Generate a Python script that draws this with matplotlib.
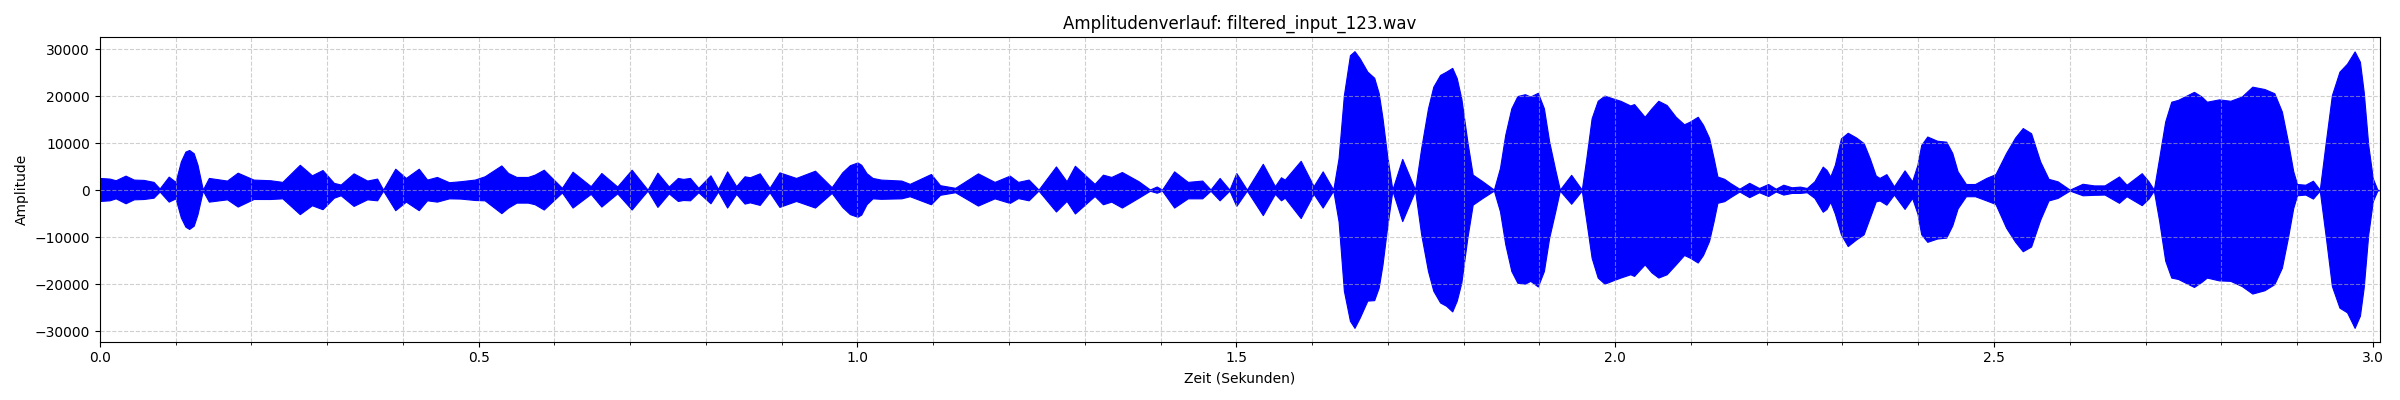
import matplotlib
matplotlib.use('Agg')
import matplotlib.pyplot as plt
from matplotlib.ticker import MultipleLocator

# Hüllkurve des Signals (Zeit in s, Amplitude)
env_time = [
    0.000, 0.013, 0.021, 0.034, 0.045, 0.058, 0.071, 0.079, 0.091, 0.100,
    0.107, 0.113, 0.118, 0.124, 0.129, 0.136, 0.144, 0.168, 0.182, 0.203,
    0.225, 0.241, 0.264, 0.280,
    0.294, 0.309, 0.318, 0.335, 0.353, 0.366, 0.374, 0.390, 0.404, 0.421,
    0.432, 0.445, 0.461, 0.476, 0.495, 0.508, 0.530, 0.539, 0.550, 0.565,
    0.574, 0.586, 0.610, 0.624, 0.648, 0.662, 0.683, 0.702, 0.723, 0.736,
    0.751, 0.763, 0.770, 0.779, 0.790, 0.806, 0.816, 0.828, 0.840, 0.851,
    0.858, 0.871, 0.884, 0.897, 0.919, 0.944, 0.966, 0.980, 0.990, 1.000,
    1.005, 1.012, 1.020,
    1.031, 1.058, 1.069, 1.097, 1.109, 1.129, 1.159, 1.181, 1.201, 1.212,
    1.226, 1.239, 1.262, 1.276, 1.287, 1.313, 1.324, 1.335, 1.349, 1.371,
    1.386, 1.395, 1.402, 1.418, 1.436, 1.455, 1.466, 1.478, 1.491, 1.500,
    1.514, 1.535, 1.551, 1.559, 1.564, 1.585, 1.602, 1.614, 1.628, 1.635,
    1.642, 1.650, 1.656, 1.663, 1.673, 1.682, 1.688, 1.693, 1.699, 1.706,
    1.719, 1.736, 1.744, 1.753, 1.760, 1.769, 1.777, 1.785, 1.791, 1.797,
    1.805, 1.812, 1.825, 1.840, 1.848, 1.855, 1.863, 1.871, 1.881, 1.888,
    1.898, 1.906, 1.913, 1.921, 1.927, 1.942, 1.956, 1.962, 1.969, 1.977,
    1.986, 1.997, 2.007, 2.020, 2.025, 2.039, 2.048, 2.057, 2.068, 2.080,
    2.091, 2.099, 2.109, 2.116, 2.124, 2.130, 2.135, 2.144, 2.152, 2.164,
    2.177, 2.190, 2.202, 2.212, 2.222, 2.233, 2.244, 2.253, 2.263, 2.274,
    2.279, 2.284, 2.290, 2.298, 2.307, 2.318, 2.328, 2.336, 2.344, 2.349,
    2.358, 2.368, 2.382, 2.392, 2.399, 2.404, 2.412, 2.425, 2.437, 2.445,
    2.452, 2.463, 2.475, 2.490, 2.502, 2.516, 2.528, 2.538, 2.549, 2.561,
    2.572, 2.584, 2.600, 2.617, 2.632, 2.646, 2.665, 2.675, 2.695, 2.704,
    2.711, 2.718, 2.726, 2.734, 2.743, 2.764, 2.774, 2.781, 2.797, 2.812,
    2.827, 2.841, 2.857, 2.870, 2.880, 2.888, 2.895, 2.900, 2.911, 2.921,
    2.930, 2.938, 2.946, 2.956, 2.966, 2.976, 2.983, 2.988, 2.994, 3.000,
    3.006, 3.009,
]

env_upper = [
    2590, 2450, 2100, 3080, 2240, 2170, 1750, 350, 2870, 1750,
    6090, 8190, 8540, 7840, 5390, 100, 2590, 2030, 3710, 2240,
    2100, 1750, 5390, 3150,
    4270, 1540, 1190, 3570, 2030, 2450, 100, 4550, 2590, 4550,
    2240, 2800, 1680, 1890, 2240, 2940, 5250, 3640, 2800, 2800,
    3290, 4340, 490, 3920, 840, 3640, 770, 4340, 100, 3710,
    770, 2590, 2380, 2590, 490, 3150, 280, 3990, 840, 2940,
    2730, 3570, 490, 3780, 2590, 4130, 630, 3800, 5300, 5880,
    5390, 3600, 2590,
    2240, 2030, 1330, 3430, 1050, 490, 3570, 1750, 3080, 1750,
    2240, 100, 5040, 1890, 5180, 1330, 3290, 2800, 3850, 1890,
    140, 770, 100, 3990, 1750, 2030, 140, 2590, 100, 3640,
    100, 5600, 840, 2730, 2240, 6230, 840, 3990, 100, 6800,
    20200, 28700, 29550, 28000, 25200, 23900, 20600, 15300, 7500, 100,
    6650, 100, 8900, 17400, 22000, 24500, 25200, 26000, 23800, 19500,
    10300, 3300, 1870, 100, 4700, 11800, 17400, 20000, 20400, 19900,
    20700, 17400, 10300, 4300, 100, 3250, 100, 6800, 15300, 19000,
    20100, 19500, 19000, 18000, 18300, 15600, 17400, 19000, 18100, 15600,
    14000, 14600, 15600, 13900, 11100, 6800, 2900, 2400, 1500, 300,
    1550, 450, 1300, 300, 1150, 600, 750, 450, 1870, 5000,
    4300, 2900, 5400, 11000, 12200, 11200, 10000, 6800, 3100, 2600,
    3400, 800, 4200, 1870, 5400, 9600, 11400, 10500, 10300, 7900,
    4000, 1300, 1300, 2600, 3400, 7900, 11200, 13200, 12100, 6100,
    2400, 1870, 100, 1350, 1000, 1000, 2900, 1150, 3600, 1870,
    100, 6800, 14600, 18800, 19200, 20900, 19900, 18800, 19300, 19000,
    19900, 22000, 21500, 20600, 16700, 10300, 4000, 1300, 1150, 2000,
    100, 10300, 20200, 25200, 26900, 29500, 27300, 20900, 9600, 2500,
    100, 0,
]

env_lower = [
    -2310, -2170, -1750, -2800, -1960, -1890, -1610, -300, -2450, -1750,
    -5810, -7770, -8260, -7560, -5110, -100, -2450, -1960, -3500, -1890,
    -1890, -1750, -5110, -3220,
    -4060, -1610, -1100, -3360, -1960, -2170, -100, -4270, -2450, -4270,
    -2170, -2450, -1750, -1800, -2100, -2170, -4900, -3710, -2660, -2660,
    -3000, -4130, -500, -3710, -800, -3500, -700, -4130, -100, -3570,
    -700, -2310, -2100, -2170, -450, -2800, -300, -3710, -800, -2870,
    -2600, -3150, -450, -3570, -2310, -3710, -600, -3600, -5100, -5670,
    -5200, -3000, -1750,
    -1850, -1750, -1300, -3010, -1000, -450, -3290, -1750, -2730, -1700,
    -2170, -100, -4550, -2300, -4970, -1260, -3010, -2450, -3710, -1610,
    -140, -560, -100, -3710, -1750, -1750, -140, -2170, -100, -3360,
    -100, -5320, -800, -2170, -1610, -5950, -800, -3710, -100, -6650,
    -21400, -27800, -29300, -27100, -23500, -23400, -20700, -15800, -8000, -100,
    -6600, -100, -9400, -17200, -21400, -23900, -24600, -25800, -23500, -19700,
    -10100, -3100, -1660, -100, -4500, -11500, -17200, -19700, -19900, -19300,
    -20500, -17200, -10100, -4500, -100, -2900, -100, -6600, -14400, -18600,
    -19900, -19200, -18600, -17900, -18250, -15800, -17500, -18600, -17900, -15800,
    -13800, -14400, -15400, -13800, -10800, -6600, -2700, -2350, -1500, -300,
    -1500, -450, -1250, -300, -950, -600, -600, -450, -1660, -4600,
    -4000, -2500, -5000, -9400, -11900, -10500, -9400, -5900, -2400, -2200,
    -3100, -950, -4000, -1660, -5000, -9400, -11000, -10300, -10100, -7500,
    -3900, -1300, -1300, -2200, -2950, -8000, -11000, -13000, -12000, -6300,
    -2200, -1660, -100, -1100, -1000, -950, -2700, -1300, -3200, -1800,
    -100, -6500, -15000, -18600, -18900, -20600, -19500, -18600, -19200, -19300,
    -20400, -22000, -21300, -20000, -16500, -10100, -3800, -1100, -950, -1800,
    -100, -10000, -20400, -25000, -26000, -29300, -26700, -20700, -9400, -2350,
    -100, 0,
]

file_name = 'filtered_input_123.wav'

fig, ax = plt.subplots(figsize=(24, 4), dpi=100)
ax.fill_between(env_time, env_lower, env_upper, color='blue', linewidth=0.8)

ax.set_xlim(0, env_time[-1])
ax.xaxis.set_minor_locator(MultipleLocator(0.1))
ax.grid(True, which='both', linestyle='--', alpha=0.6)

ax.set_title(f'Amplitudenverlauf: {file_name}')
ax.set_xlabel('Zeit (Sekunden)')
ax.set_ylabel('Amplitude')

plt.tight_layout()
plt.savefig('out.png')
